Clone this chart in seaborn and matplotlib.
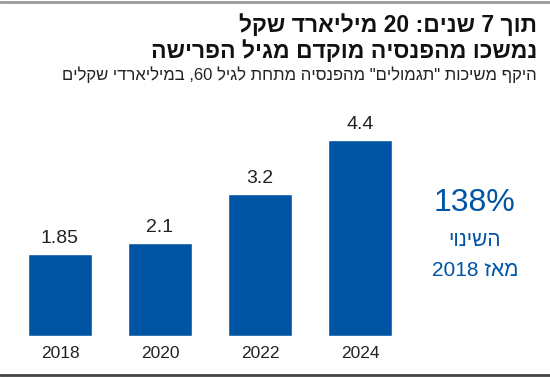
import re
import matplotlib
matplotlib.use('Agg')
import matplotlib.pyplot as plt
import seaborn as sns
import pandas as pd

# data
years = ['2018', '2020', '2022', '2024']
values = [1.85, 2.1, 3.2, 4.4]
value_labels = ['1.85', '2.1', '3.2', '4.4']

title_lines = ['תוך 7 שנים: 20 מיליארד שקל', 'נמשכו מהפנסיה מוקדם מגיל הפרישה']
subtitle = 'היקף משיכות "תגמולים" מהפנסיה מתחת לגיל 60, במיליארדי שקלים'
change_pct = '138%'
change_lines = ['השינוי', 'מאז 2018']

BLUE = '#0054a4'
FONT = ['Liberation Sans', 'DejaVu Sans']


def rtl(s):
    # matplotlib has no bidi: flip the string, then flip number runs back
    r = s[::-1]
    return re.sub(r'[0-9][0-9.,%]*[0-9%]|[0-9]', lambda m: m.group(0)[::-1], r)


sns.set_theme(style='white')
plt.rcParams['font.family'] = FONT

fig = plt.figure(figsize=(5.5, 3.77), dpi=100)
ax = fig.add_axes([10 / 550, 41 / 377, 400 / 550, 222.5 / 377])

df = pd.DataFrame({'year': years, 'value': values})
sns.barplot(data=df, x='year', y='value', color=BLUE, saturation=1,
            width=0.64, ax=ax)
ax.set_xlim(-0.5, 3.5)
ax.set_ylim(0, 5)
ax.bar_label(ax.containers[0], labels=value_labels, padding=5,
             fontsize=14, color='#222222')
ax.set_xlabel('')
ax.set_ylabel('')
ax.set_yticks([])
ax.tick_params(axis='x', length=0, pad=7, labelsize=12.5, labelcolor='#222222')
sns.despine(ax=ax, left=True, bottom=True)

# title block
fig.text(537 / 550, 1 - 26 / 377, rtl(title_lines[0]), ha='right', va='center',
         fontsize=16.5, fontweight='bold', color='#111111')
fig.text(537 / 550, 1 - 51 / 377, rtl(title_lines[1]), ha='right', va='center',
         fontsize=16.5, fontweight='bold', color='#111111')
fig.text(537 / 550, 1 - 75 / 377, rtl(subtitle), ha='right', va='center',
         fontsize=12, color='#222222')

# change annotation
fig.text(475 / 550, 1 - 203 / 377, change_pct, ha='center', va='center',
         fontsize=23, color=BLUE)
fig.text(475 / 550, 1 - 241 / 377, rtl(change_lines[0]), ha='center', va='center',
         fontsize=15, color=BLUE)
fig.text(475 / 550, 1 - 270 / 377, rtl(change_lines[1]), ha='center', va='center',
         fontsize=15, color=BLUE)

# frame lines
fig.add_artist(plt.Line2D([0, 1], [1 - 2 / 377, 1 - 2 / 377], color='#9a9a9a',
                          lw=2, transform=fig.transFigure))
fig.add_artist(plt.Line2D([0, 1], [1 - 375 / 377, 1 - 375 / 377], color='#444444',
                          lw=2, transform=fig.transFigure))

fig.savefig('out.png', dpi=100)
